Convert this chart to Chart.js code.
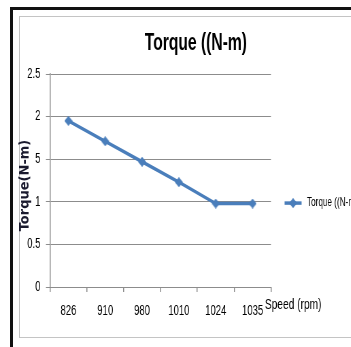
<!DOCTYPE html>
<html>
<head>
<meta charset="utf-8">
<script src="https://cdn.jsdelivr.net/npm/chart.js@4/dist/chart.umd.min.js"></script>
<style>
  html, body { margin: 0; padding: 0; width: 351px; height: 347px; overflow: hidden; background: #fff; }
  #outer { position: absolute; left: 10px; top: 7px; width: 400px; height: 400px;
           border-left: 3px solid #111; border-top: 3px solid #111; }
  #inner { position: absolute; left: 19px; top: 16px; width: 400px; height: 320px;
           border: 1px solid #c4c4c4; }
  /* the source picture is squeezed sideways, so the canvas is too */
  #torqueChart { position: absolute; left: 0; top: 0; transform: scaleX(0.68); transform-origin: 0 0; }
</style>
</head>
<body>
<div id="outer"></div>
<div id="inner"></div>
<canvas id="torqueChart" width="576" height="347"></canvas>
<script>
// Speed categories (rpm)
const speeds = ['826', '910', '980', '1010', '1024', '1035'];

// Torque values (N-m)
const torque = [1.95, 1.71, 1.47, 1.23, 0.98, 0.98];

// Y tick labels as they appear in the picture (bottom to top)
const yTickLabels = ['0', '0.5', '1', '5', '2', '2.5'];

const seriesName = 'Torque ((N-m)';
const squeeze = 0.68;
const lineColor = '#4a7ebb';
const gridColor = '#8c8c8c';
const sans = "'Liberation Sans', Arial, sans-serif";

// diamond marker, pre-widened so it looks right after the squeeze
function diamond() {
  const c = document.createElement('canvas');
  c.width = 12; c.height = 10;
  const g = c.getContext('2d');
  g.fillStyle = lineColor;
  g.beginPath();
  g.moveTo(6, 0); g.lineTo(12, 5); g.lineTo(6, 10); g.lineTo(0, 5);
  g.closePath(); g.fill();
  return c;
}
const marker = diamond();

// Title, y title, legend and x title, drawn around the chart area
const extrasPlugin = {
  id: 'extras',
  afterDraw(chart) {
    const ctx = chart.ctx;
    const area = chart.chartArea;
    ctx.save();
    ctx.fillStyle = '#000';
    ctx.textAlign = 'center';
    ctx.textBaseline = 'alphabetic';
    ctx.font = 'bold 23px ' + sans;
    ctx.fillText(seriesName, chart.width / 2, area.top - 24.5);

    // y title keeps its own width, so undo the squeeze for it
    ctx.save();
    ctx.translate(area.left - 36, (area.top + area.bottom) / 2 + 5);
    ctx.rotate(-Math.PI / 2);
    ctx.scale(1, 1 / squeeze);
    ctx.fillStyle = '#1a1a2e';
    ctx.font = "bold 13px 'DejaVu Sans', sans-serif";
    ctx.textBaseline = 'middle';
    ctx.fillText('Torque(N-m)', 0, 0);
    ctx.restore();

    // legend: line with a diamond, then the series name
    const ly = area.top + (area.bottom - area.top) * 0.606;
    const lx = area.right + 20;
    ctx.strokeStyle = lineColor;
    ctx.lineWidth = 3.5;
    ctx.beginPath(); ctx.moveTo(lx, ly); ctx.lineTo(lx + 25, ly); ctx.stroke();
    ctx.drawImage(marker, lx + 12.5 - marker.width / 2, ly - marker.height / 2);
    ctx.fillStyle = '#000';
    ctx.textAlign = 'left';
    ctx.textBaseline = 'middle';
    ctx.font = '12px ' + sans;
    ctx.fillText(seriesName, area.right + 53, ly);

    ctx.font = '15px ' + sans;
    ctx.fillText('Speed (rpm)', area.right - 9, area.bottom + 18);
    ctx.restore();
  }
};

Chart.defaults.font.family = sans;
Chart.defaults.color = '#000';

const ctx = document.getElementById('torqueChart').getContext('2d');
const chart = new Chart(ctx, {
  type: 'line',
  data: {
    labels: speeds,
    datasets: [{
      label: seriesName,
      data: torque,
      borderColor: lineColor,
      backgroundColor: lineColor,
      borderWidth: 3.5,
      pointStyle: marker,
      pointRadius: 5,
      pointBorderWidth: 0,
      tension: 0
    }]
  },
  plugins: [extrasPlugin],
  options: {
    responsive: false,
    animation: false,
    events: [],
    layout: { padding: { left: 0, top: 74, right: 177.5, bottom: 20 } },
    plugins: {
      legend: { display: false },
      tooltip: { enabled: false },
      title: { display: false }
    },
    scales: {
      x: {
        type: 'category',
        offset: true,
        afterFit: function(scale) { scale.height = 40; },
        grid: {
          offset: true,
          drawOnChartArea: false,
          drawTicks: true,
          tickLength: 5,
          lineWidth: 1.5,
          color: gridColor
        },
        border: { display: true, color: gridColor, width: 1 },
        ticks: { padding: 11, font: { size: 14 }, maxRotation: 0 }
      },
      y: {
        min: 0,
        max: 2.5,
        afterFit: function(scale) { scale.width = 73.5; },
        grid: { color: gridColor, tickLength: 6 },
        border: { display: true, color: gridColor, width: 1.5 },
        ticks: {
          stepSize: 0.5,
          padding: 8,
          font: { size: 14 },
          callback: function(value, index) { return yTickLabels[index]; }
        }
      }
    }
  }
});
</script>
</body>
</html>
